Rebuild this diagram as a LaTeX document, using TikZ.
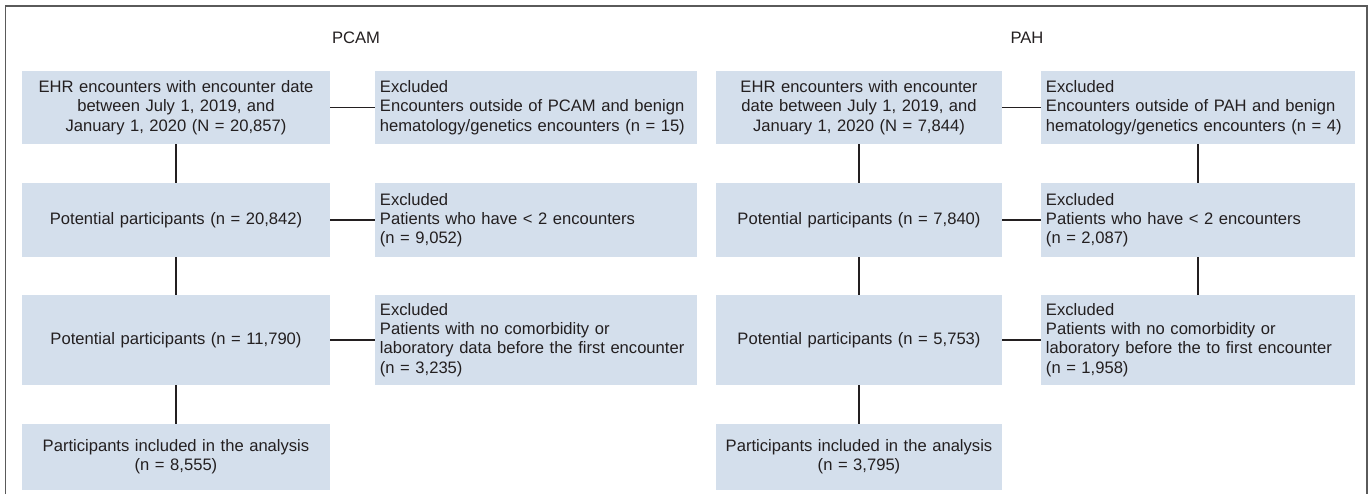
\documentclass[tikz,border=0pt]{standalone}
\usepackage{fontspec}
\setmainfont{Liberation Sans}
\definecolor{boxfill}{RGB}{212,223,236}
\definecolor{ink}{RGB}{35,31,32}
\definecolor{framegray}{RGB}{90,90,90}
\tikzset{flowsheet/.style={x=0.025cm,y={(0cm,-0.025cm)},font=\fontsize{11.8}{13.7}\selectfont,text=ink},
  mainbox/.style={fill=boxfill,inner xsep=0.1cm,align=center},
  exclbox/.style={fill=boxfill,inner xsep=0.125cm,align=left},
  joinline/.style={draw=ink,line width=1.3pt}}

\begin{document}
\begin{tikzpicture}[flowsheet]
\useasboundingbox (0,0) rectangle (1372,494);
\draw[framegray,line width=0.8pt] (5.5,494) |- (1367,6) -- (1367,494);
\node (pcam) at (356,38) {PCAM};
\node (pah) at (1027,38) {PAH};

\node (pc1) [mainbox,text width=7.5cm,minimum height=1.825cm] at (176,107.5) {EHR encounters with encounter date\\between July 1, 2019, and\\January 1, 2020 (N = 20,857)};
\node (pc2) [mainbox,text width=7.5cm,minimum height=1.85cm] at (176,220) {Potential participants (n = 20,842)};
\node (pc3) [mainbox,text width=7.5cm,minimum height=2.25cm] at (176,340) {Potential participants (n = 11,790)};
\node (pc4) [mainbox,text width=7.5cm,minimum height=1.65cm] at (176,457) {Participants included in the analysis\\(n = 8,555)};
\node (pcx1) [exclbox,text width=7.8cm,minimum height=1.825cm] at (536,107.5) {Excluded\\Encounters outside of PCAM and benign\\hematology/genetics encounters (n = 15)};
\node (pcx2) [exclbox,text width=7.8cm,minimum height=1.85cm] at (536,220) {Excluded\\Patients who have < 2 encounters\\(n = 9,052)};
\node (pcx3) [exclbox,text width=7.8cm,minimum height=2.25cm] at (536,340) {Excluded\\Patients with no comorbidity or\\laboratory data before the first encounter\\(n = 3,235)};

\node (pa1) [mainbox,text width=6.95cm,minimum height=1.825cm] at (859,107.5) {EHR encounters with encounter\\date between July 1, 2019, and\\January 1, 2020 (N = 7,844)};
\node (pa2) [mainbox,text width=6.95cm,minimum height=1.85cm] at (859,220) {Potential participants (n = 7,840)};
\node (pa3) [mainbox,text width=6.95cm,minimum height=2.25cm] at (859,340) {Potential participants (n = 5,753)};
\node (pa4) [mainbox,text width=6.95cm,minimum height=1.65cm] at (859,457) {Participants included in the analysis\\(n = 3,795)};
\node (pax1) [exclbox,text width=7.6cm,minimum height=1.825cm] at (1198,107.5) {Excluded\\Encounters outside of PAH and benign\\hematology/genetics encounters (n = 4)};
\node (pax2) [exclbox,text width=7.6cm,minimum height=1.85cm] at (1198,220) {Excluded\\Patients who have < 2 encounters\\(n = 2,087)};
\node (pax3) [exclbox,text width=7.6cm,minimum height=2.25cm] at (1198,340) {Excluded\\Patients with no comorbidity or\\laboratory before the to first encounter\\(n = 1,958)};

\draw[joinline] (pc1) -- (pc2);
\draw[joinline] (pc2) -- (pc3);
\draw[joinline] (pc3) -- (pc4);
\draw[joinline] (pc1) -- (pcx1);
\draw[joinline] (pc2) -- (pcx2);
\draw[joinline] (pc3) -- (pcx3);
\draw[joinline] (pa1) -- (pa2);
\draw[joinline] (pa2) -- (pa3);
\draw[joinline] (pa3) -- (pa4);
\draw[joinline] (pa1) -- (pax1);
\draw[joinline] (pa2) -- (pax2);
\draw[joinline] (pa3) -- (pax3);
\draw[joinline] (pax1) -- (pax2);
\draw[joinline] (pax2) -- (pax3);
\end{tikzpicture}
\end{document}
